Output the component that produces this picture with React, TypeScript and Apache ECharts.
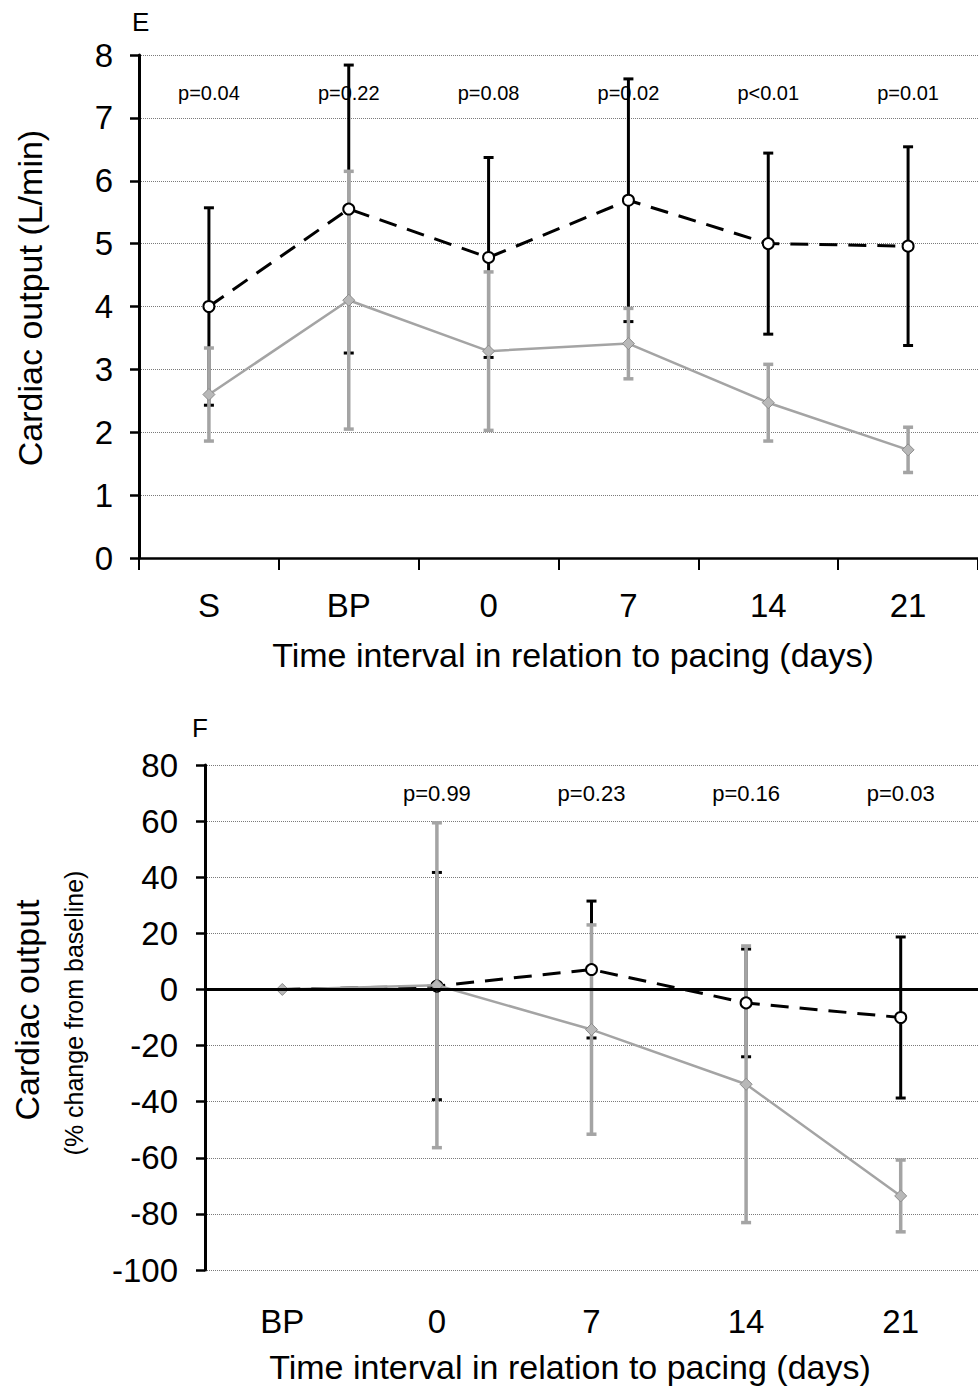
import React, { useEffect, useRef } from "react";
import * as echarts from "echarts";

// ---------- Panel E data (L/min) ----------
const catsE = ["S", "BP", "0", "7", "14", "21"];
const blackMeanE = [4.0, 5.55, 4.78, 5.69, 5.0, 4.96];
const blackSdE = [1.57, 2.29, 1.59, 1.93, 1.44, 1.58];
const grayMeanE = [2.6, 4.1, 3.29, 3.41, 2.47, 1.72];
const graySdE = [0.74, 2.05, 1.26, 0.56, 0.61, 0.36];
const pLabelsE = ["p=0.04", "p=0.22", "p=0.08", "p=0.02", "p<0.01", "p=0.01"];
const pLabelYE = 7.4;

// ---------- Panel F data (% change from baseline) ----------
const catsF = ["BP", "0", "7", "14", "21"];
const blackMeanF = [0, 1.2, 7.1, -4.8, -10];
const blackSdF = [0, 40.5, 24.4, 19.2, 28.7];
const grayMeanF = [0, 1.5, -14.3, -33.8, -73.6];
const graySdF = [0, 57.9, 37.3, 49.3, 12.8];
const pLabelsF = ["", "p=0.99", "p=0.23", "p=0.16", "p=0.03"];
const pLabelYF = 69.7;

const FONT = "'Liberation Sans', Arial, Helvetica, sans-serif";
const GRAY_LINE = "#a4a4a4";

function errorBarSeries(
  axisIndex: number,
  means: number[],
  sds: number[],
  color: string,
  width: number,
  capHalf: number,
  z: number,
  extra: any = {}
) {
  const data = means
    .map((m, i) => (sds[i] > 0 ? [i, m - sds[i], m + sds[i]] : null))
    .filter((d) => d !== null);
  return {
    type: "custom",
    xAxisIndex: axisIndex,
    yAxisIndex: axisIndex,
    z,
    silent: true,
    data,
    encode: { x: 0, y: [1, 2] },
    renderItem: (params: any, api: any) => {
      const x = api.value(0);
      const lo = api.coord([x, api.value(1)]);
      const hi = api.coord([x, api.value(2)]);
      const style = { stroke: color, lineWidth: width };
      return {
        type: "group",
        children: [
          { type: "line", shape: { x1: lo[0], y1: lo[1], x2: hi[0], y2: hi[1] }, style },
          { type: "line", shape: { x1: lo[0] - capHalf, y1: lo[1], x2: lo[0] + capHalf, y2: lo[1] }, style },
          { type: "line", shape: { x1: hi[0] - capHalf, y1: hi[1], x2: hi[0] + capHalf, y2: hi[1] }, style },
        ],
      };
    },
    ...extra,
  };
}

function pLabelSeries(axisIndex: number, labels: string[], yVal: number, fontSize: number) {
  return {
    type: "custom",
    xAxisIndex: axisIndex,
    yAxisIndex: axisIndex,
    z: 10,
    silent: true,
    data: labels.map((t, i) => [i, yVal]),
    renderItem: (params: any, api: any) => {
      const idx = params.dataIndex;
      const p = api.coord([api.value(0), api.value(1)]);
      return {
        type: "text",
        x: p[0],
        y: p[1],
        style: {
          text: labels[idx],
          fill: "#000",
          font: `${fontSize}px ${FONT}`,
          align: "center",
          verticalAlign: "middle",
        },
      };
    },
  };
}

function blackLine(axisIndex: number, means: number[], hideFirst: boolean) {
  return {
    type: "line",
    xAxisIndex: axisIndex,
    yAxisIndex: axisIndex,
    z: 3,
    silent: true,
    data: means.map((v, i) =>
      hideFirst && i === 0 ? { value: v, symbol: "none" } : v
    ),
    symbol: "circle",
    symbolSize: 11,
    lineStyle: { color: "#000", width: 3, type: [18, 11] },
    itemStyle: { color: "#fff", borderColor: "#000", borderWidth: 2 },
  };
}

function grayLine(axisIndex: number, means: number[]) {
  return {
    type: "line",
    xAxisIndex: axisIndex,
    yAxisIndex: axisIndex,
    z: 4,
    silent: true,
    data: means,
    symbol: "diamond",
    symbolSize: 12,
    lineStyle: { color: GRAY_LINE, width: 2.5 },
    itemStyle: { color: "#b8b8b8", borderColor: "#8c8c8c", borderWidth: 1 },
  };
}

export default function App() {
  const ref = useRef<HTMLDivElement>(null);

  useEffect(() => {
    if (!ref.current) return;
    const chart = echarts.init(ref.current, null, { renderer: "svg" });

    const axisLabel = { color: "#000", fontSize: 33, fontFamily: FONT };
    const split = { show: true, lineStyle: { color: "#7a7a7a", type: "dotted", width: 1 } };

    const option: any = {
      animation: false,
      backgroundColor: "#fff",
      grid: [
        { left: 139, right: 0, top: 55, height: 503, outerBoundsMode: "none" },
        { left: 205, right: 0, top: 765, height: 505, outerBoundsMode: "none" },
      ],
      xAxis: [
        {
          gridIndex: 0,
          type: "category",
          data: catsE,
          boundaryGap: true,
          axisLine: { show: true, lineStyle: { color: "#000", width: 2.5 } },
          axisTick: { show: true, length: 12, lineStyle: { color: "#000", width: 2 } },
          axisLabel: { ...axisLabel, margin: 31 },
          splitLine: { show: false },
        },
        {
          gridIndex: 1,
          type: "category",
          data: catsF,
          boundaryGap: true,
          axisLine: { show: false, onZero: false },
          axisTick: { show: false },
          axisLabel: { ...axisLabel, margin: 35 },
          splitLine: { show: false },
        },
      ],
      yAxis: [
        {
          gridIndex: 0,
          type: "value",
          min: 0,
          max: 8,
          interval: 1,
          axisLine: { show: true, lineStyle: { color: "#000", width: 3 } },
          axisTick: { show: true, length: 9, lineStyle: { color: "#000", width: 2.5 } },
          axisLabel: { ...axisLabel, margin: 26 },
          splitLine: split,
        },
        {
          gridIndex: 1,
          type: "value",
          min: -100,
          max: 80,
          interval: 20,
          axisLine: { show: true, onZero: false, lineStyle: { color: "#000", width: 3 } },
          axisTick: { show: true, length: 9, lineStyle: { color: "#000", width: 2.5 } },
          axisLabel: { ...axisLabel, margin: 27 },
          splitLine: split,
        },
      ],
      series: [
        // Panel E
        errorBarSeries(0, blackMeanE, blackSdE, "#000", 3, 5, 1),
        errorBarSeries(0, grayMeanE, graySdE, GRAY_LINE, 3.5, 5, 2),
        blackLine(0, blackMeanE, false),
        grayLine(0, grayMeanE),
        pLabelSeries(0, pLabelsE, pLabelYE, 20),
        // Panel F
        errorBarSeries(1, blackMeanF, blackSdF, "#000", 3, 5, 1, {
          markLine: {
            silent: true,
            symbol: "none",
            label: { show: false },
            lineStyle: { color: "#000", width: 3, type: "solid" },
            data: [{ yAxis: 0 }],
          },
        }),
        errorBarSeries(1, grayMeanF, graySdF, GRAY_LINE, 3.5, 5, 2),
        blackLine(1, blackMeanF, true),
        grayLine(1, grayMeanF),
        pLabelSeries(1, pLabelsF, pLabelYF, 22),
      ],
      graphic: [
        {
          type: "text",
          left: 132,
          top: 9,
          style: { text: "E", fill: "#000", font: `26px ${FONT}` },
        },
        {
          type: "text",
          x: 30,
          y: 298,
          rotation: Math.PI / 2,
          style: {
            text: "Cardiac output (L/min)",
            fill: "#000",
            font: `34px ${FONT}`,
            align: "center",
            verticalAlign: "middle",
          },
        },
        {
          type: "text",
          x: 573,
          y: 655,
          style: {
            text: "Time interval in relation to pacing (days)",
            fill: "#000",
            font: `34px ${FONT}`,
            align: "center",
            verticalAlign: "middle",
          },
        },
        {
          type: "text",
          left: 192,
          top: 715,
          style: { text: "F", fill: "#000", font: `26px ${FONT}` },
        },
        {
          type: "text",
          x: 27,
          y: 1010,
          rotation: Math.PI / 2,
          style: {
            text: "Cardiac output",
            fill: "#000",
            font: `34px ${FONT}`,
            align: "center",
            verticalAlign: "middle",
          },
        },
        {
          type: "text",
          x: 74,
          y: 1013,
          rotation: Math.PI / 2,
          style: {
            text: "(% change from baseline)",
            fill: "#000",
            font: `25px ${FONT}`,
            align: "center",
            verticalAlign: "middle",
          },
        },
        {
          type: "text",
          x: 570,
          y: 1367,
          style: {
            text: "Time interval in relation to pacing (days)",
            fill: "#000",
            font: `34px ${FONT}`,
            align: "center",
            verticalAlign: "middle",
          },
        },
      ],
    };

    chart.setOption(option);
    return () => chart.dispose();
  }, []);

  return (
    <div
      ref={ref}
      style={{ position: "absolute", left: 0, top: 0, width: 978, height: 1390, background: "#fff" }}
    />
  );
}
